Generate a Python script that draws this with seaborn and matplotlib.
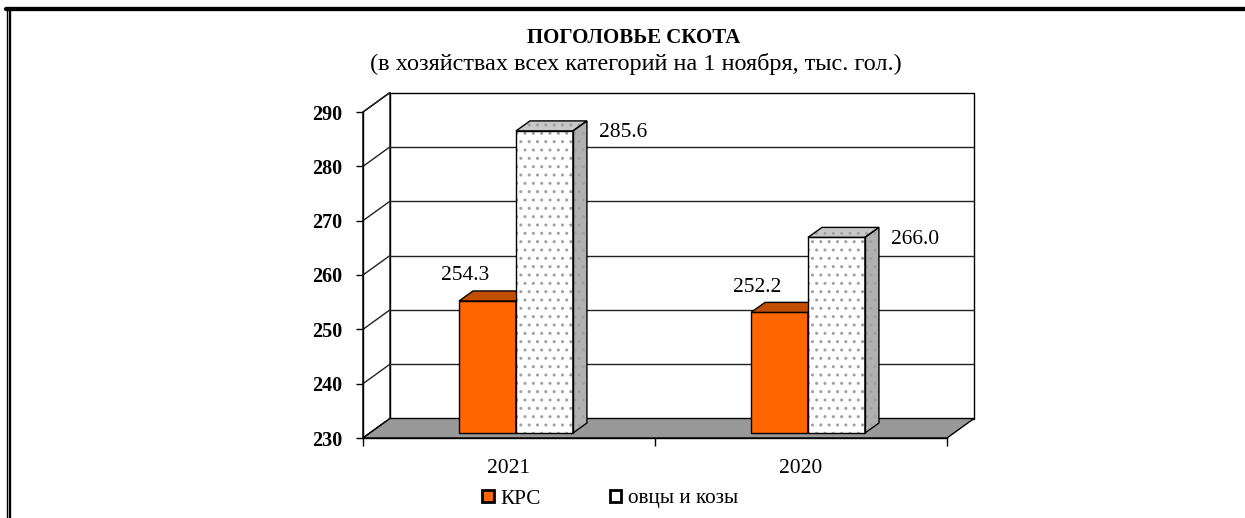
import pandas as pd
import matplotlib
matplotlib.use('Agg')
import matplotlib.pyplot as plt
from matplotlib.patches import Polygon, Rectangle, Patch
from matplotlib.lines import Line2D
import seaborn as sns

# данные
years = ['2021', '2020']
series = ['КРС', 'овцы и козы']
krs = [254.3, 252.2]
ovcy = [285.6, 266.0]
y_ticks = [230, 240, 250, 260, 270, 280, 290]

title = 'ПОГОЛОВЬЕ СКОТА'
subtitle = '(в хозяйствах всех категорий на 1 ноября, тыс. гол.)'

df = pd.DataFrame({
    'год': years * 2,
    'серия': [series[0]] * 2 + [series[1]] * 2,
    'значение': krs + ovcy,
})

sns.set_theme(style='white')
plt.rcParams['font.family'] = ['Liberation Serif', 'DejaVu Serif']
plt.rcParams.update({'text.color': 'black', 'xtick.color': 'black', 'ytick.color': 'black',
                     'axes.labelcolor': 'black'})

W, H = 1245, 518
fig = plt.figure(figsize=(W / 100, H / 100), dpi=100)
ax = fig.add_axes([363 / W, 80 / H, 584 / W, 326 / H])
ax.set_facecolor('none')

orange = '#FF6600'
sns.barplot(data=df, x='год', y='значение', hue='серия', palette=[orange, 'white'],
            saturation=1, width=0.39, edgecolor='black', linewidth=1, legend=False, ax=ax,
            zorder=5)

ax.set_xlim(-0.5, 1.5)
ax.set_ylim(y_ticks[0], y_ticks[-1])
y0 = y_ticks[0]

# пиксели -> единицы данных
px = 2 / 584
py = (y_ticks[-1] - y_ticks[0]) / 326

# глубина "3D"
WX, WY = 27 * px, 19.5 * py     # задняя стенка
BX, BY = 7 * px, 5 * py         # передняя грань столбца
DX, DY = 14 * px, 10 * py       # глубина столбца
dot_color = '#a0a0a0'


def face(pts, fc, z, hatch=None):
    ax.add_patch(Polygon(pts, closed=True, fc=fc, ec='none', lw=0, zorder=z, clip_on=False))
    if hatch:
        ax.add_patch(Polygon(pts, closed=True, fill=False, ec=dot_color, lw=0, hatch=hatch,
                             zorder=z + 0.01, clip_on=False))
    ax.add_patch(Polygon(pts, closed=True, fill=False, ec='black', lw=1, zorder=z + 0.02,
                         clip_on=False))


# задняя стенка, левая стенка, пол
face([(-0.5 + WX, y0 + WY), (1.5 + WX, y0 + WY), (1.5 + WX, y_ticks[-1] + WY),
      (-0.5 + WX, y_ticks[-1] + WY)], 'white', 0.5)
face([(-0.5, y0), (-0.5 + WX, y0 + WY), (-0.5 + WX, y_ticks[-1] + WY), (-0.5, y_ticks[-1])],
     'white', 0.6)
for v in y_ticks[1:-1]:
    ax.plot([-0.5 + WX, 1.5 + WX], [v + WY, v + WY], color='#222222', lw=1, zorder=0.7,
            clip_on=False)
for v in y_ticks:
    ax.plot([-0.5, -0.5 + WX], [v, v + WY], color='#222222', lw=1, zorder=0.7, clip_on=False)
face([(-0.5, y0), (1.5, y0), (1.5 + WX, y0 + WY), (-0.5 + WX, y0 + WY)], '#999999', 1)

# объёмные столбцы
tops = [('#C24E00', '#A84300', None), ('#C8C8C8', '#B0B0B0', '..')]
for i, cont in enumerate(ax.containers):
    top_c, side_c, hatch = tops[i]
    z = 5 + i
    for bar in cont:
        v = bar.get_height()
        x0 = bar.get_x() + BX
        w = bar.get_width()
        b = y0 + BY
        t = v + BY
        bar.set_x(x0)
        bar.set_y(b)
        bar.set_height(v - y0)
        bar.set_zorder(z)
        if hatch:
            bar.set_linewidth(0)
            ax.add_patch(Rectangle((x0, b), w, v - y0, fill=False, ec=dot_color, lw=0,
                                   hatch=hatch, zorder=z + 0.01))
            ax.add_patch(Rectangle((x0, b), w, v - y0, fill=False, ec='black', lw=1,
                                   zorder=z + 0.02))
        face([(x0, t), (x0 + w, t), (x0 + w + DX, t + DY), (x0 + DX, t + DY)], top_c, z, hatch)
        face([(x0 + w, b), (x0 + w, t), (x0 + w + DX, t + DY), (x0 + w + DX, b + DY)],
             side_c, z, hatch)
        if i == 0:
            ax.annotate(f'{v:.1f}', (x0 + w / 2, t), xytext=(-22, 25), textcoords='offset pixels',
                        ha='center', va='center', fontsize=15.5, zorder=10)
        else:
            ax.annotate(f'{v:.1f}', (x0 + w, t), xytext=(50, -2), textcoords='offset pixels',
                        ha='center', va='center', fontsize=15.5, zorder=10)

# оси
for s in ['top', 'right']:
    ax.spines[s].set_visible(False)
for s in ['left', 'bottom']:
    ax.spines[s].set_color('black')
    ax.spines[s].set_linewidth(1)
    ax.spines[s].set_zorder(2)
ax.set_yticks(y_ticks)
ax.tick_params(axis='y', left=True, direction='out', length=5, width=1, color='black',
               labelsize=14.5, pad=10)
for lbl in ax.get_yticklabels():
    lbl.set_fontweight('bold')
ax.set_xticks([0, 1])
ax.set_xticklabels(years)
ax.set_xticks([-0.5, 0.5, 1.5], minor=True)
ax.tick_params(axis='x', which='major', bottom=True, length=0, labelsize=15.5, pad=15)
ax.tick_params(axis='x', which='minor', bottom=True, direction='out', length=6, width=1,
               color='black')
ax.set_xlabel('')
ax.set_ylabel('')
ax.grid(False)

# заголовки
fig.text(634 / W, 1 - 38 / H, title, ha='center', va='center', fontsize=15, fontweight='bold')
fig.text(636 / W, 1 - 64 / H, subtitle, ha='center', va='center', fontsize=17.5)

# легенда
handles = [Patch(fc=orange, ec='black', lw=2), Patch(fc='white', ec='black', lw=2)]
fig.legend(handles=handles, labels=series, loc='center', bbox_to_anchor=(610 / W, 1 - 499 / H),
           ncol=2, frameon=False, fontsize=15.3, handlelength=0.55, handleheight=0.55,
           handletextpad=0.3, columnspacing=3.25)

# рамка
fig.add_artist(Line2D([6 / W, 1], [1 - 9 / H, 1 - 9 / H], color='black', lw=3.1))
fig.add_artist(Line2D([6.7 / W, 6.7 / W], [0, 1 - 7 / H], color='black', lw=1))
fig.add_artist(Line2D([9.8 / W, 9.8 / W], [0, 1 - 9 / H], color='black', lw=1.7))

fig.savefig('out.png', dpi=100)
